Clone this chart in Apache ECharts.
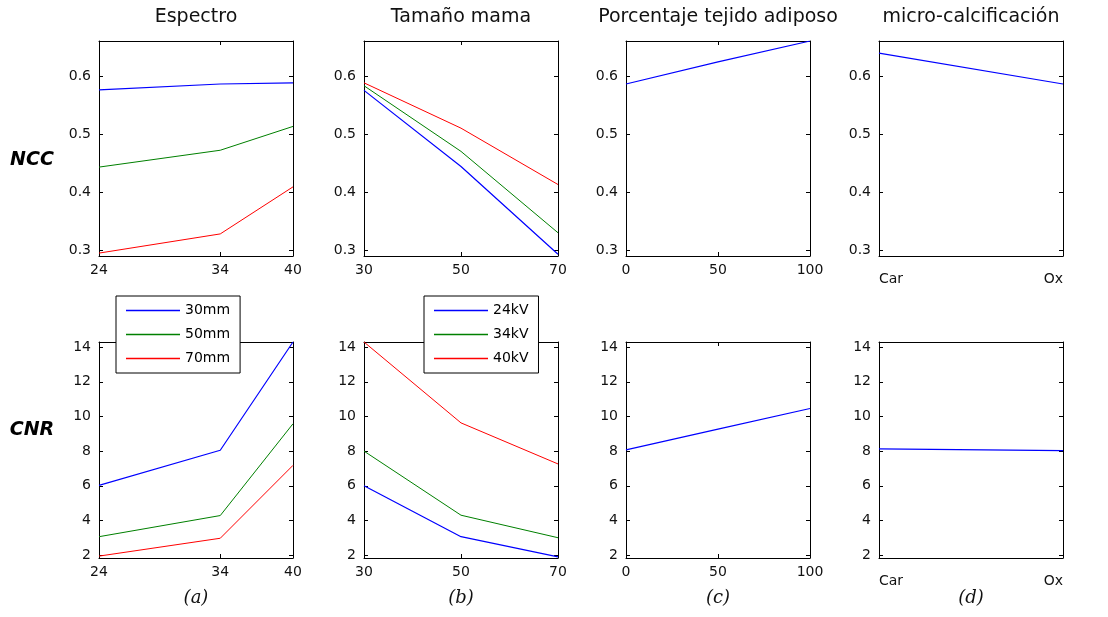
<!DOCTYPE html>
<html>
<head>
<meta charset="utf-8">
<script src="https://cdn.jsdelivr.net/npm/echarts@6/dist/echarts.min.js"></script>
<style>
  html, body { margin: 0; background: #fff; }
  #chart { width: 1108px; height: 617px; }
</style>
</head>
<body>
<div id="chart"></div>
<script>
// x levels of each column
const kvLevels = [24, 34, 40];
const sizeLevels = [30, 50, 70];
const fatLevels = [0, 50, 100];
const microCats = ["Car", "Ox"];

// (a) Espectro: one line per breast size
const sizeNames = ["30mm", "50mm", "70mm"];
const nccBySize30 = [0.576, 0.586, 0.588];
const nccBySize50 = [0.443, 0.472, 0.513];
const nccBySize70 = [0.295, 0.328, 0.409];
const cnrBySize30 = [6.02, 8.05, 14.3];
const cnrBySize50 = [3.06, 4.28, 9.58];
const cnrBySize70 = [1.94, 2.97, 7.18];

// (b) Tamaño mama: one line per tube voltage
const kvNames = ["24kV", "34kV", "40kV"];
const nccByKv24 = [0.575, 0.444, 0.293];
const nccByKv34 = [0.583, 0.470, 0.330];
const nccByKv40 = [0.588, 0.510, 0.413];
const cnrByKv24 = [6.0, 3.06, 1.9];
const cnrByKv34 = [8.0, 4.3, 3.0];
const cnrByKv40 = [14.3, 9.63, 7.26];

// (c) Porcentaje tejido adiposo
const nccFat = [0.586, 0.624, 0.66];
const cnrFat = [8.07, 9.27, 10.46];

// (d) micro-calcificación
const nccMicro = [0.639, 0.586];
const cnrMicro = [8.13, 8.03];

const panelTitles = ["Espectro", "Tamaño mama", "Porcentaje tejido adiposo", "micro-calcificación"];
const captions = ["(a)", "(b)", "(c)", "(d)"];
const rowNames = ["NCC", "CNR"];
const nccTicks = [0.3, 0.4, 0.5, 0.6];
const cnrTicks = [2, 4, 6, 8, 10, 12, 14];

const FONT = "DejaVu Sans";
const TXT = "#111";
const lineColors = ["#0000ff", "#008000", "#ff0000"];

const panelLeft = [99, 364, 626, 879];
const panelWidth = [194, 194, 184, 184];
const rowTop = [41, 342];
const rowHeight = [215, 216];
const rowRange = [[0.29, 0.66], [1.83, 14.3]];
const rowTicks = [nccTicks, cnrTicks];

const panels = [
  { x: kvLevels, names: sizeNames,
    rows: [[nccBySize30, nccBySize50, nccBySize70], [cnrBySize30, cnrBySize50, cnrBySize70]] },
  { x: sizeLevels, names: kvNames,
    rows: [[nccByKv24, nccByKv34, nccByKv40], [cnrByKv24, cnrByKv34, cnrByKv40]] },
  { x: fatLevels, names: ["adiposo"], rows: [[nccFat], [cnrFat]] },
  { x: microCats, names: ["micro"], rows: [[nccMicro], [cnrMicro]], category: true }
];

const chart = echarts.init(document.getElementById("chart"));

const grid = [], xAxis = [], yAxis = [], series = [], graphic = [];
const black = { color: "#000", width: 1 };
const labelFont = { color: TXT, fontFamily: FONT, fontSize: 14 };

panels.forEach((pn, p) => {
  for (let r = 0; r < 2; r++) {
    const g = grid.length;
    grid.push({ left: panelLeft[p], top: rowTop[r], width: panelWidth[p], height: rowHeight[r] });

    if (pn.category) {
      xAxis.push({
        gridIndex: g, type: "category", data: pn.x, boundaryGap: false, position: "bottom",
        axisLine: { onZero: false, lineStyle: black },
        axisTick: { show: false },
        axisLabel: Object.assign({ margin: 16, alignMinLabel: "left", alignMaxLabel: "right" }, labelFont)
      });
      xAxis.push({
        gridIndex: g, type: "category", data: pn.x, boundaryGap: false, position: "top",
        axisLine: { onZero: false, lineStyle: black },
        axisTick: { show: false }, axisLabel: { show: false }
      });
    } else {
      const lo = pn.x[0], hi = pn.x[pn.x.length - 1];
      xAxis.push({
        gridIndex: g, type: "value", min: lo, max: hi, position: "bottom",
        axisLine: { onZero: false, lineStyle: black },
        axisTick: { inside: true, length: 4, customValues: pn.x, lineStyle: black },
        axisLabel: Object.assign({ margin: 7, customValues: pn.x }, labelFont),
        splitLine: { show: false }
      });
      xAxis.push({
        gridIndex: g, type: "value", min: lo, max: hi, position: "top",
        axisLine: { onZero: false, lineStyle: black },
        axisTick: { inside: true, length: 4, customValues: pn.x, lineStyle: black },
        axisLabel: { show: false }, splitLine: { show: false }
      });
    }

    const ticks = rowTicks[r];
    yAxis.push({
      gridIndex: g, type: "value", min: rowRange[r][0], max: rowRange[r][1], position: "left",
      axisLine: { show: true, onZero: false, lineStyle: black },
      axisTick: { show: true, inside: true, length: 4, customValues: ticks, lineStyle: black },
      axisLabel: Object.assign({
        margin: 8, customValues: ticks,
        formatter: v => (r === 0 ? v.toFixed(1) : String(v))
      }, labelFont),
      splitLine: { show: false }
    });
    yAxis.push({
      gridIndex: g, type: "value", min: rowRange[r][0], max: rowRange[r][1], position: "right",
      axisLine: { show: true, onZero: false, lineStyle: black },
      axisTick: { show: true, inside: true, length: 4, customValues: ticks, lineStyle: black },
      axisLabel: { show: false }, splitLine: { show: false }
    });

    pn.rows[r].forEach((ys, k) => {
      series.push({
        name: pn.names[k], type: "line",
        xAxisIndex: 2 * g, yAxisIndex: 2 * g,
        data: pn.category ? ys : pn.x.map((xv, i) => [xv, ys[i]]),
        symbol: "none", silent: true, animation: false,
        lineStyle: { color: lineColors[k], width: k === 0 ? 1.2 : 1 },
        itemStyle: { color: lineColors[k] }
      });
    });
  }

  graphic.push({
    type: "text", x: panelLeft[p] + panelWidth[p] / 2, y: 17,
    style: { text: panelTitles[p], font: "19px '" + FONT + "'", fill: TXT,
             textAlign: "center", textVerticalAlign: "middle" }
  });
  graphic.push({
    type: "text", x: panelLeft[p] + panelWidth[p] / 2, y: 598,
    style: { text: captions[p], font: "italic 18px 'DejaVu Serif'", fill: TXT,
             textAlign: "center", textVerticalAlign: "middle" }
  });
});

rowNames.forEach((t, r) => {
  graphic.push({
    type: "text", x: 32, y: r === 0 ? 160 : 430,
    style: { text: t, font: "italic bold 19px '" + FONT + "'", fill: "#000",
             textAlign: "center", textVerticalAlign: "middle" }
  });
});

const legendBase = {
  orient: "vertical", top: 296, icon: "rect", itemWidth: 54, itemHeight: 1.3, itemGap: 7,
  padding: [6, 10, 6, 10], backgroundColor: "#fff", borderColor: "#000", borderWidth: 1,
  selectedMode: false,
  textStyle: { color: "#000", fontFamily: FONT, fontSize: 14, lineHeight: 17 }
};

chart.setOption({
  animation: false,
  backgroundColor: "#fff",
  grid, xAxis, yAxis, series, graphic,
  legend: [
    Object.assign({}, legendBase, { left: 116, data: sizeNames }),
    Object.assign({}, legendBase, { left: 424, data: kvNames })
  ]
});
</script>
</body>
</html>
